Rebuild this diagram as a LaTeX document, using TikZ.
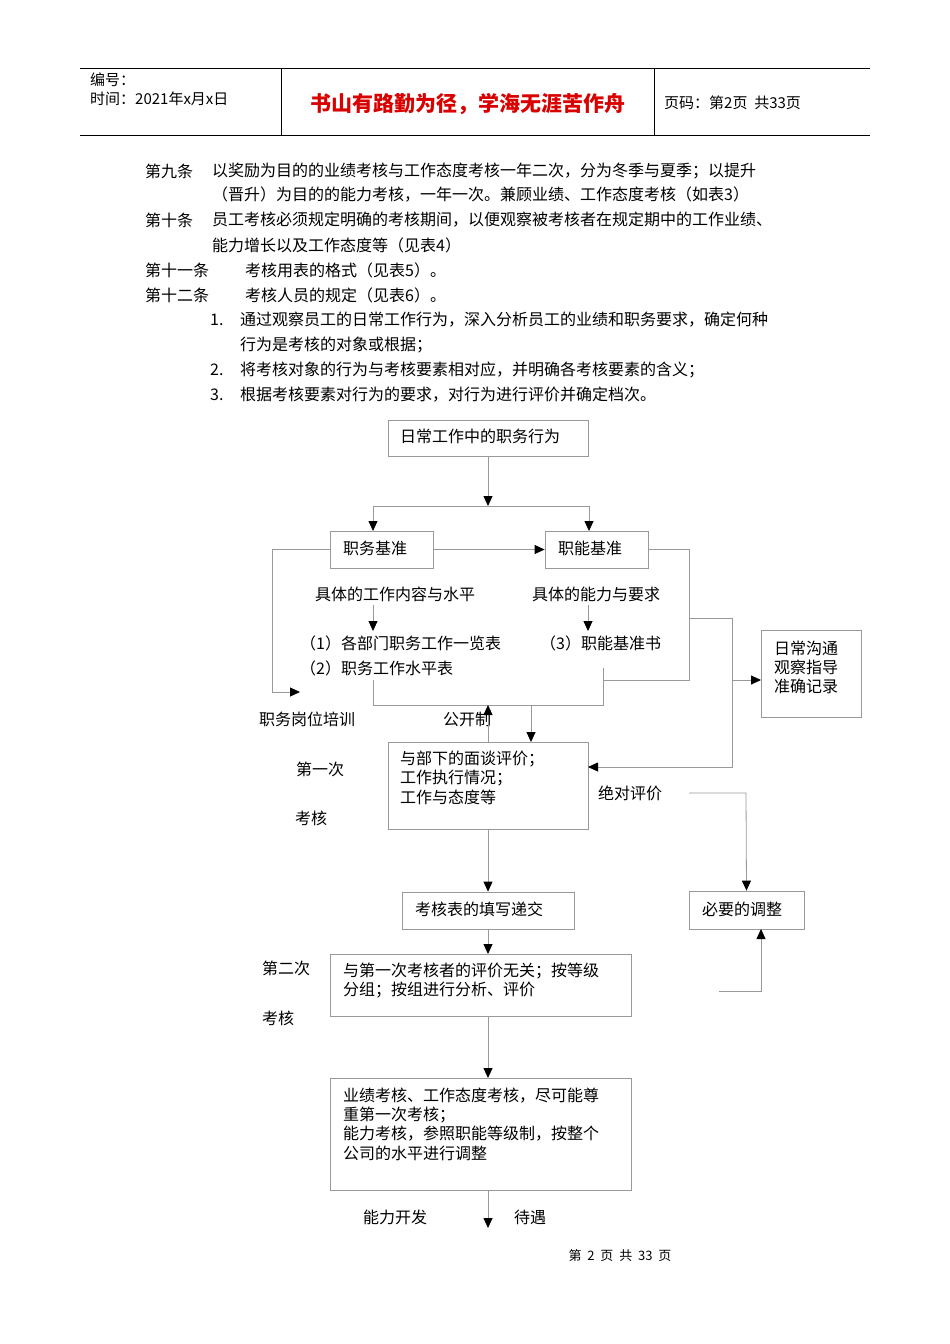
\documentclass[tikz,border=0pt]{standalone}
\usepackage{fontspec}
\setmainfont{Noto Sans CJK SC}
\usetikzlibrary{arrows.meta}
\definecolor{ln}{gray}{0.6}
\tikzset{
  bx/.style={draw=ln,line width=0.8pt,rectangle,inner sep=0pt},
  ln/.style={draw=ln,line width=0.8pt},
  ar/.style={ln,-{Triangle[length=10pt,width=9pt,fill=black,color=black]}},
  tx/.style={font=\fontsize{16}{19}\selectfont,inner sep=0pt,anchor=west,align=left},
  lb/.style={font=\fontsize{16}{19}\selectfont,inner sep=0pt},
}
\begin{document}
\begin{tikzpicture}[x=1pt,y=-1pt]
\useasboundingbox (0,0) rectangle (950,1344);
% header
\draw[black,line width=0.6pt] (80,68)--(870,68) (80,135)--(870,135) (281,68)--(281,135) (654,68)--(654,135);
\node[tx,font=\fontsize{15}{16}\selectfont] (h1) at (90,80) {编号：};
\node[tx,font=\fontsize{15}{16}\selectfont] (h2) at (90,99) {时间：2021年x月x日};
\node[lb,font=\fontsize{21}{22}\selectfont\bfseries,text=red!85!black] (ht) at (468,104) {书山有路勤为径，学海无涯苦作舟};
\node[tx,font=\fontsize{15}{16}\selectfont] (hp) at (664,103) {页码：第2页\ \ 共33页};
% body
\node[tx] (t1) at (145,171) {第九条};
\node[tx] (t1b) at (212,171) {以奖励为目的的业绩考核与工作态度考核一年二次，分为冬季与夏季；以提升};
\node[tx] (t1c) at (212,195) {（晋升）为目的的能力考核，一年一次。兼顾业绩、工作态度考核（如表3）};
\node[tx] (t2) at (145,220) {第十条};
\node[tx] (t2b) at (212,220) {员工考核必须规定明确的考核期间，以便观察被考核者在规定期中的工作业绩、};
\node[tx] (t2c) at (212,245) {能力增长以及工作态度等（见表4）};
\node[tx] (t3) at (145,270) {第十一条};
\node[tx] (t3b) at (245,270) {考核用表的格式（见表5）。};
\node[tx] (t4) at (145,295) {第十二条};
\node[tx] (t4b) at (245,295) {考核人员的规定（见表6）。};
\node[tx] (n1) at (210,320) {1.};
\node[tx] (n1b) at (240,320) {通过观察员工的日常工作行为，深入分析员工的业绩和职务要求，确定何种};
\node[tx] (n1c) at (240,345) {行为是考核的对象或根据；};
\node[tx] (n2) at (210,370) {2.};
\node[tx] (n2b) at (240,370) {将考核对象的行为与考核要素相对应，并明确各考核要素的含义；};
\node[tx] (n3) at (210,395) {3.};
\node[tx] (n3b) at (240,395) {根据考核要素对行为的要求，对行为进行评价并确定档次。};
% boxes
\node[bx,minimum width=200pt,minimum height=36pt] (b1) at (488,438) {};
\node[tx] at (400,436) {日常工作中的职务行为};
\node[bx,minimum width=103pt,minimum height=37pt] (zw) at (381.5,549.5) {};
\node[tx] at (343,548) {职务基准};
\node[bx,minimum width=103pt,minimum height=37pt] (zn) at (596.5,549.5) {};
\node[tx] at (558,548) {职能基准};
\node[bx,minimum width=100pt,minimum height=87pt] (rc) at (811,673.5) {};
\node[tx] at (774,648) {日常沟通};
\node[tx] at (774,667) {观察指导};
\node[tx] at (774,686) {准确记录};
\node[bx,minimum width=200pt,minimum height=87pt] (ms) at (488,785.5) {};
\node[tx] at (400,759) {与部下的面谈评价；};
\node[tx] at (400,778) {工作执行情况；};
\node[tx] at (400,797) {工作与态度等};
\node[bx,minimum width=172pt,minimum height=37pt] (kb) at (488,910.5) {};
\node[tx] at (415,909) {考核表的填写递交};
\node[bx,minimum width=115pt,minimum height=38pt] (tz) at (746.5,910) {};
\node[tx] at (702,909) {必要的调整};
\node[bx,minimum width=301pt,minimum height=62pt] (d2) at (480.5,985) {};
\node[tx] at (343,971) {与第一次考核者的评价无关；按等级};
\node[tx] at (343,990) {分组；按组进行分析、评价};
\node[bx,minimum width=301pt,minimum height=112pt] (fn) at (480.5,1134) {};
\node[tx] at (343,1096) {业绩考核、工作态度考核，尽可能尊};
\node[tx] at (343,1115) {重第一次考核；};
\node[tx] at (343,1134) {能力考核，参照职能等级制，按整个};
\node[tx] at (343,1153) {公司的水平进行调整};
% texts
\node[lb] (c1) at (395,594) {具体的工作内容与水平};
\node[lb] (c2) at (596,594) {具体的能力与要求};
\node[tx] (l1) at (300,643) {（1）各部门职务工作一览表};
\node[tx] (l2) at (300,668) {（2）职务工作水平表};
\node[tx] (l3) at (540,643) {（3）职能基准书};
\node[lb] at (307,719) {职务岗位培训};
\node[lb] at (467,719) {公开制};
\node[lb] at (320,769) {第一次};
\node[lb] at (311,818) {考核};
\node[lb] at (630,793) {绝对评价};
\node[lb] at (286,968) {第二次};
\node[lb] at (278,1018) {考核};
\node[lb] at (395,1217) {能力开发};
\node[lb] at (530,1217) {待遇};
\node[lb,font=\fontsize{13}{15}\selectfont] at (620,1256) {第\ \ 2\ \ 页\ \ 共\ \ 33\ \ 页};
% connectors
\coordinate (s1) at (488,506);
\draw[ar] (b1.south) -- (s1);
\draw[ar] (s1) -| (373,531);
\draw[ar] (s1) -| (589,531);
\draw[ar] (zw.east) -- (zn.west);
\coordinate (pt) at (300,692);
\draw[ar] (zw.west) -- (272,549.5) |- (pt);
\draw[ar] (373,605) -- (373,631);
\draw[ar] (588,605) -- (588,631);
\draw[ln] (zn.east) -- (689,549.5) -- (689,680) -- (603,680);
\draw[ln] (603,668) -- (603,705) -- (373,705) -- (373,680);
\draw[ar] (488,742) -- (488,705);
\draw[ar] (531,705) -- (531,742);
\draw[ar] (689,618) -- (732,618) -- (732,767) -- (588,767);
\draw[ar] (732,680) -- (761,680);
\draw[ar] (689,793) -- (746,793) -- (tz.north);
\draw[ar] (488,829) -- (kb.north);
\draw[ar] (kb.south) -- (488,954);
\draw[ar] (488,1016) -- (488,1078);
\coordinate (end) at (488,1228);
\draw[ar] (488,1190) -- (end);
\draw[ar] (719,991) -- (761,991) -- (761,929);
\end{tikzpicture}
\end{document}
